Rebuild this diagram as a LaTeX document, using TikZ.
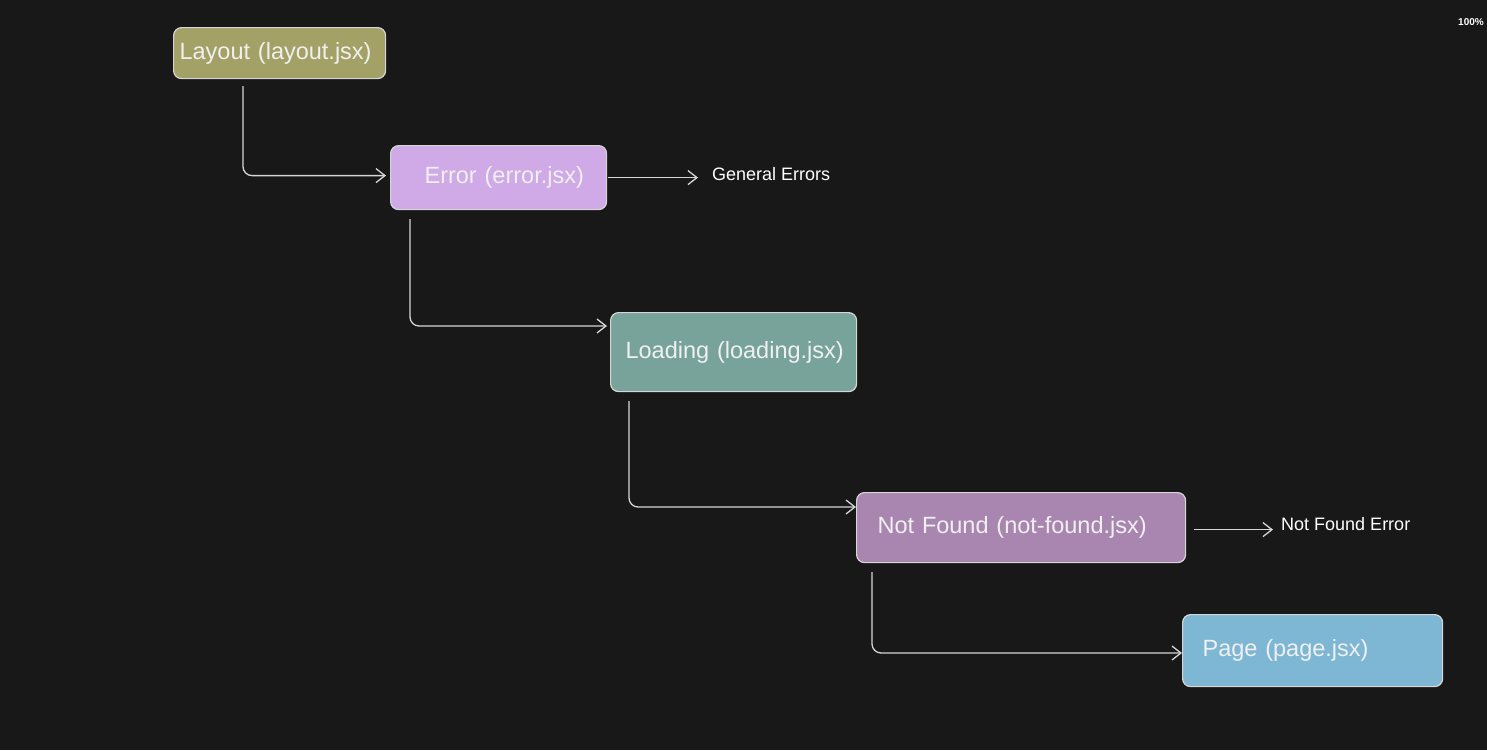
\documentclass[tikz,border=0pt]{standalone}
\usepackage{fontspec}
\setmainfont{Liberation Sans}
\usetikzlibrary{arrows.meta,calc}
\definecolor{bg}{HTML}{181818}
\definecolor{edge}{HTML}{D6D6D6}
\definecolor{txt}{HTML}{F0F0F0}
\definecolor{cLayout}{HTML}{A4A166}
\definecolor{cError}{HTML}{CFAAE7}
\definecolor{cLoading}{HTML}{78A39A}
\definecolor{cNotFound}{HTML}{A986B0}
\definecolor{cPage}{HTML}{7DB7D3}
\tikzset{
  x=1pt, y=-1pt,
  boxnode/.style={draw=edge, line width=1.2pt, rounded corners=8pt, anchor=north west,
    text=txt, font=\fontsize{23.5}{23.5}\selectfont, align=left, inner ysep=0pt},
  lbl/.style={text=white, font=\fontsize{18}{18}\selectfont, anchor=west, inner sep=0pt},
  conn/.style={draw=edge, line width=1.3pt, rounded corners=9pt,
    -{Straight Barb[length=9pt,width=14pt,line width=1.3pt]}},
}
\begin{document}
\begin{tikzpicture}
\clip (0,0) rectangle (1487,750);
\fill[bg] (0,0) rectangle (1487,750);
\useasboundingbox (0,0) rectangle (1487,750);

\node[boxnode, fill=cLayout, minimum height=51pt, text width=200pt, inner xsep=6pt] (layout) at (173,27) {\raisebox{-2pt}{Layout (layout.jsx)}};
\node[boxnode, fill=cError, minimum height=64pt, text width=200pt, inner xsep=8pt] (error) at (390,145) {\hspace*{26pt}\raisebox{-2pt}{Error (error.jsx)}};
\node[boxnode, fill=cLoading, minimum height=79pt, text width=230pt, inner xsep=8pt] (loading) at (610,312) {\hspace*{7pt}Loading (loading.jsx)};
\node[boxnode, fill=cNotFound, minimum height=70pt, text width=313pt, inner xsep=8pt] (notfound) at (856,492) {\hspace*{13pt}\raisebox{-2pt}{Not Found (not-found.jsx)}};
\node[boxnode, fill=cPage, minimum height=72pt, text width=244pt, inner xsep=8pt] (page) at (1182,614) {\hspace*{12pt}\raisebox{-2pt}{Page (page.jsx)}};

\node[lbl] (generr) at (712,174) {General Errors};
\node[lbl] (nferr) at (1281,524) {Not Found Error};
\node[text=white, font=\bfseries\fontsize{10}{10}\selectfont, anchor=west, inner sep=0pt] (zoomlbl) at (1458,22) {100\%};

\coordinate (s1) at ($(layout.south west)+(70,7)$);
\coordinate (s2) at ($(error.south west)+(20,9)$);
\coordinate (s3) at ($(loading.south west)+(19,9)$);
\coordinate (s4) at ($(notfound.south west)+(16,9)$);
\coordinate (nfs) at ([xshift=8pt,yshift=-2pt]notfound.east);

\draw[conn] (s1) |- ([xshift=-4pt,yshift=2pt]error.west);
\draw[conn] (s2) |- ([xshift=-3pt,yshift=-14pt]loading.north west);
\draw[conn] (s3) |- ([yshift=-15pt]notfound.north west);
\draw[conn] (s4) |- ([yshift=-39pt]page.north west);

\draw[conn] ([xshift=1pt]error.east) -- ([xshift=-14pt]generr.west |- error.east);
\draw[conn] (nfs) -- ([xshift=-8pt]nferr.west |- nfs);
\end{tikzpicture}
\end{document}
